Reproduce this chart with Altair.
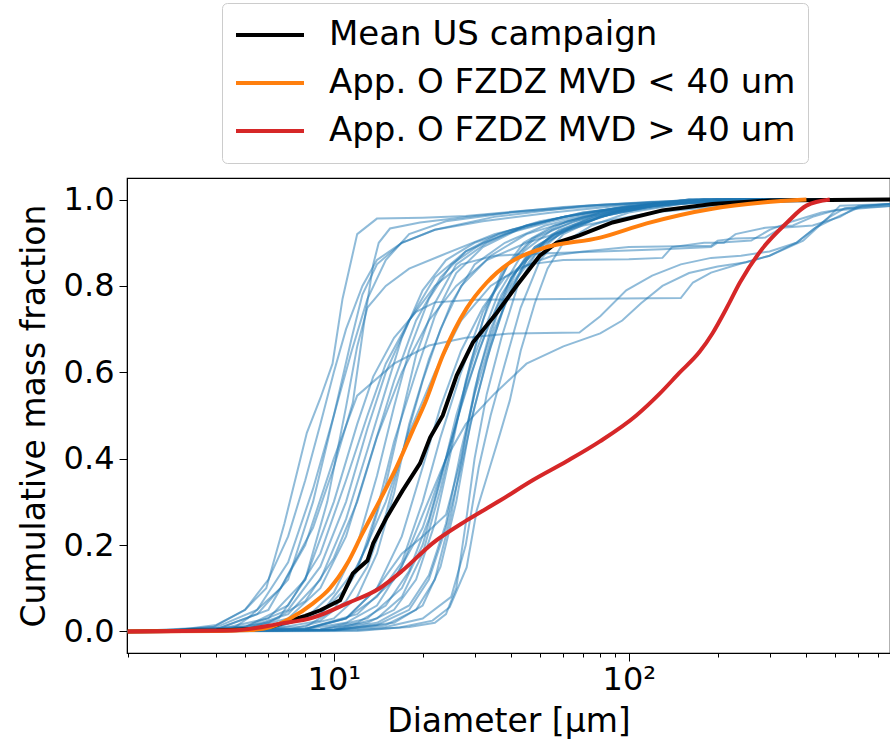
import altair as alt
import pandas as pd

SERIES = ["Mean US campaign", "App. O FZDZ MVD < 40 um", "App. O FZDZ MVD > 40 um"]
COLORS = ["#000000", "#ff7f0e", "#d62728"]
INTERP = ["linear", "monotone", "monotone"]

x_ticks = [2, 3, 4, 5, 6, 7, 8, 9, 10, 20, 30, 40, 50, 60, 70, 80, 90, 100,
           200, 300, 400, 500, 600, 700]
y_ticks = [0.0, 0.2, 0.4, 0.6, 0.8, 1.0]

# Mean US campaign (black)
mean_d = [2, 4, 5.2, 6.2, 7.1, 8, 9.0, 10.5, 11.6, 13.0, 13.6, 15.1, 17.1, 19.6, 21.2,
          23.4, 26.1, 29.6, 35.7, 41.7, 49.9, 56.9, 68, 88, 130, 192, 300, 768]
mean_f = [0, 0.002, 0.005, 0.012, 0.025, 0.036, 0.049, 0.072, 0.134, 0.164, 0.204,
          0.264, 0.326, 0.389, 0.449, 0.50, 0.593, 0.669, 0.738, 0.801, 0.870, 0.90,
          0.917, 0.947, 0.975, 0.99, 0.998, 1.0]

# App. O FZDZ MVD < 40 um (orange)
lt40_d = [2, 4, 5.2, 6.1, 7.1, 8.5, 9.7, 11.1, 12.5, 14.3, 16.3, 18.5, 20.4, 23.4,
          28.2, 33.0, 39.5, 51.0, 80, 115, 192, 284, 400]
lt40_f = [0, 0.001, 0.003, 0.01, 0.03, 0.065, 0.10, 0.157, 0.227, 0.303, 0.38, 0.465,
          0.53, 0.639, 0.748, 0.808, 0.854, 0.887, 0.912, 0.945, 0.979, 0.993, 1.0]

# App. O FZDZ MVD > 40 um (red)
gt40_d = [2, 4.5, 6.6, 8.5, 11.1, 14.3, 17.1, 21.6, 28.2, 36.6, 47.2, 61.6, 79.8, 106,
          127, 148, 174, 192, 215, 238, 284, 344, 400, 480]
gt40_f = [0, 0.002, 0.018, 0.032, 0.065, 0.10, 0.141, 0.204, 0.257, 0.303, 0.35, 0.394,
          0.44, 0.50, 0.55, 0.598, 0.648, 0.69, 0.75, 0.808, 0.887, 0.947, 0.986, 1.0]

# individual US campaign spectra (blue), (diameter, cumulative fraction)
s01 = [(2, 0), (3, 0.003), (3.9, 0.01), (5, 0.05), (5.9, 0.10), (6.8, 0.25), (8.1, 0.46),
       (9, 0.54), (9.9, 0.62), (10.7, 0.77), (12, 0.92), (14, 0.956), (20, 0.958),
       (28, 0.962), (45, 0.975), (80, 0.988), (150, 0.996), (300, 1.0), (768, 1.0)]
s02 = [(2, 0), (4.5, 0.005), (5.1, 0.03), (6.6, 0.10), (8.5, 0.24), (10, 0.38), (11.6, 0.53),
       (12.7, 0.72), (13.6, 0.85), (14.2, 0.90), (15.5, 0.933), (19.6, 0.947), (30, 0.962),
       (60, 0.983), (120, 0.995), (300, 1.0), (768, 1.0)]
s03 = [(2, 0), (4, 0.005), (5.5, 0.04), (7, 0.12), (8.5, 0.3), (10, 0.5), (11.5, 0.68),
       (12.5, 0.78), (14, 0.85), (17, 0.9), (22, 0.93), (35, 0.96), (70, 0.985),
       (150, 0.998), (768, 1.0)]
s04 = [(2, 0), (5, 0.005), (6.5, 0.03), (8, 0.12), (9.5, 0.3), (11, 0.52), (12, 0.66),
       (13, 0.75), (15, 0.8), (18, 0.84), (23, 0.87), (35, 0.92), (60, 0.96), (120, 0.99),
       (300, 1.0), (768, 1.0)]
s05 = [(2, 0), (3, 0.004), (4, 0.015), (5, 0.05), (6, 0.12), (7, 0.22), (8, 0.35), (9, 0.48),
       (10, 0.6), (11, 0.7), (12.5, 0.8), (14, 0.86), (17, 0.9), (22, 0.93), (32, 0.95),
       (55, 0.97), (100, 0.988), (200, 1.0), (768, 1.0)]
s06 = [(2, 0), (4, 0.01), (5.5, 0.05), (7, 0.16), (8.5, 0.33), (10, 0.5), (11.5, 0.65),
       (13, 0.77), (15, 0.86), (18, 0.92), (24, 0.95), (40, 0.97), (80, 0.985),
       (150, 0.998), (768, 1.0)]
s07 = [(2, 0), (4, 0.004), (6, 0.03), (8, 0.12), (10, 0.3), (12, 0.48), (13.6, 0.59),
       (16, 0.68), (19, 0.74), (22, 0.762), (30, 0.768), (60, 0.77), (150, 0.772),
       (165, 0.808), (190, 0.831), (240, 0.852), (300, 0.87), (390, 0.905), (470, 0.956),
       (520, 0.986), (768, 0.99)]
s08 = [(2, 0), (4, 0.005), (6, 0.05), (8, 0.2), (10, 0.4), (12, 0.546), (16, 0.62),
       (21, 0.662), (28, 0.68), (40, 0.69), (68, 0.692), (80, 0.73), (98, 0.79),
       (120, 0.824), (150, 0.85), (190, 0.865), (240, 0.87), (300, 0.88), (370, 0.9),
       (430, 0.935), (520, 0.963), (620, 0.985), (768, 0.99)]
s09 = [(2, 0), (5, 0.01), (7, 0.06), (9, 0.18), (11, 0.35), (13, 0.5), (15, 0.62), (18, 0.72),
       (22, 0.8), (27, 0.85), (35, 0.87), (50, 0.875), (80, 0.88), (130, 0.885), (190, 0.89),
       (200, 0.9), (260, 0.905), (300, 0.93), (360, 0.95), (450, 0.97), (550, 0.98),
       (768, 0.985)]
s10 = [(2, 0), (8, 0.005), (11, 0.03), (14, 0.1), (17, 0.22), (20, 0.38), (23, 0.52),
       (27, 0.65), (32, 0.75), (38, 0.82), (46, 0.85), (60, 0.86), (100, 0.862), (130, 0.865),
       (140, 0.89), (180, 0.9), (210, 0.9), (230, 0.92), (290, 0.935), (360, 0.94),
       (420, 0.96), (500, 0.975), (768, 0.985)]
s11 = [(2, 0), (6, 0.005), (9, 0.04), (12, 0.15), (15, 0.3), (18, 0.46), (22, 0.6), (27, 0.72),
       (34, 0.8), (42, 0.84), (55, 0.87), (70, 0.88), (100, 0.89), (190, 0.893), (200, 0.905),
       (230, 0.91), (290, 0.912), (330, 0.935), (420, 0.94), (520, 0.96), (600, 0.985),
       (768, 0.99)]
s12 = [(2, 0), (8, 0.005), (11, 0.02), (14, 0.06), (17, 0.15), (20, 0.27), (24, 0.4),
       (28, 0.48), (35, 0.55), (45, 0.62), (60, 0.66), (80, 0.69), (95, 0.72), (110, 0.76),
       (130, 0.8), (160, 0.83), (200, 0.845), (250, 0.855), (300, 0.87), (370, 0.9),
       (420, 0.93), (480, 0.96), (540, 0.98), (768, 0.99)]
s13 = [(2, 0), (5, 0.008), (7, 0.04), (9, 0.12), (11, 0.26), (13, 0.42), (15, 0.56), (17, 0.68),
       (20, 0.79), (24, 0.86), (30, 0.9), (40, 0.93), (60, 0.96), (100, 0.985), (180, 1.0),
       (768, 1.0)]
s14 = [(2, 0), (6, 0.006), (8, 0.03), (10, 0.09), (12, 0.2), (14, 0.36), (16, 0.52), (18, 0.65),
       (21, 0.77), (25, 0.85), (32, 0.9), (45, 0.94), (70, 0.97), (120, 0.99), (200, 1.0),
       (768, 1.0)]
s15 = [(2, 0), (5, 0.01), (7, 0.05), (9, 0.15), (11, 0.3), (13, 0.47), (15, 0.6), (18, 0.72),
       (22, 0.82), (28, 0.88), (38, 0.92), (55, 0.95), (90, 0.98), (160, 1.0), (768, 1.0)]
s16 = [(2, 0), (6, 0.005), (9, 0.04), (11, 0.1), (13, 0.2), (15, 0.34), (17, 0.5), (19, 0.64),
       (22, 0.76), (26, 0.85), (33, 0.9), (45, 0.94), (70, 0.97), (120, 0.99), (220, 1.0),
       (768, 1.0)]
s17 = [(2, 0), (7, 0.004), (10, 0.03), (12, 0.08), (14, 0.18), (16, 0.32), (18, 0.48),
       (21, 0.63), (25, 0.76), (30, 0.85), (38, 0.9), (52, 0.94), (80, 0.97), (140, 0.99),
       (250, 1.0), (768, 1.0)]
s18 = [(2, 0), (5, 0.006), (7, 0.03), (9, 0.1), (11, 0.22), (13, 0.38), (16, 0.58), (19, 0.72),
       (23, 0.82), (28, 0.88), (36, 0.92), (50, 0.95), (80, 0.975), (130, 0.99), (250, 1.0),
       (768, 1.0)]
s19 = [(2, 0), (8, 0.01), (10, 0.05), (12, 0.14), (14, 0.28), (16, 0.44), (19, 0.6), (22, 0.73),
       (26, 0.83), (32, 0.89), (42, 0.93), (60, 0.96), (100, 0.985), (180, 1.0), (768, 1.0)]
s20 = [(2, 0), (4, 0.004), (6, 0.02), (8, 0.07), (10, 0.17), (12, 0.3), (14, 0.45), (17, 0.6),
       (21, 0.72), (26, 0.8), (33, 0.86), (45, 0.9), (70, 0.94), (120, 0.97), (250, 0.99),
       (400, 1.0), (768, 1.0)]
s21 = [(2, 0), (6, 0.004), (9, 0.025), (11, 0.07), (13, 0.15), (15, 0.27), (17, 0.41),
       (20, 0.58), (23, 0.7), (27, 0.8), (34, 0.87), (45, 0.92), (70, 0.96), (120, 0.985),
       (220, 1.0), (768, 1.0)]
s22 = [(2, 0), (10, 0.002), (15, 0.01), (20, 0.03), (25, 0.08), (28, 0.2), (31, 0.38), (34, 0.5),
       (38, 0.62), (43, 0.75), (50, 0.86), (60, 0.92), (80, 0.96), (120, 0.985), (200, 1.0),
       (768, 1.0)]
s23 = [(2, 0), (10, 0.003), (16, 0.02), (20, 0.06), (23, 0.15), (26, 0.3), (29, 0.48),
       (33, 0.63), (38, 0.76), (45, 0.86), (55, 0.92), (75, 0.96), (110, 0.985), (180, 1.0),
       (768, 1.0)]
s24 = [(2, 0), (12, 0.001), (16.7, 0.009), (21.6, 0.025), (24.7, 0.056), (28.2, 0.148),
       (30.5, 0.28), (33.8, 0.38), (36.6, 0.458), (39.5, 0.535), (43, 0.65), (48, 0.76),
       (53, 0.84), (60, 0.9), (75, 0.94), (100, 0.97), (150, 0.99), (250, 1.0), (768, 1.0)]
s25 = [(2, 0), (10, 0.004), (14, 0.02), (18, 0.06), (21, 0.13), (24, 0.25), (27, 0.42),
       (30, 0.55), (35, 0.7), (42, 0.82), (50, 0.89), (65, 0.94), (100, 0.98), (160, 1.0),
       (768, 1.0)]
s26 = [(2, 0), (9, 0.005), (13, 0.03), (17, 0.1), (20, 0.2), (23, 0.35), (26, 0.5), (30, 0.64),
       (36, 0.78), (44, 0.88), (55, 0.93), (80, 0.97), (130, 0.99), (200, 1.0), (768, 1.0)]
s27 = [(2, 0), (10, 0.003), (15, 0.015), (19, 0.05), (22, 0.12), (25, 0.27), (28, 0.45),
       (31, 0.6), (36, 0.74), (42, 0.84), (52, 0.9), (70, 0.95), (100, 0.98), (170, 1.0),
       (768, 1.0)]
s28 = [(2, 0), (8, 0.006), (12, 0.04), (16, 0.12), (20, 0.24), (24, 0.4), (28, 0.56), (33, 0.7),
       (40, 0.82), (48, 0.89), (60, 0.93), (90, 0.97), (150, 0.995), (250, 1.0), (768, 1.0)]
s29 = [(2, 0), (12, 0.003), (18, 0.01), (22, 0.02), (24, 0.04), (26, 0.1), (28, 0.25), (30, 0.4),
       (33, 0.55), (37, 0.68), (42, 0.8), (48, 0.87), (58, 0.92), (80, 0.96), (120, 0.985),
       (220, 1.0), (768, 1.0)]
s30 = [(2, 0), (9, 0.004), (12, 0.02), (15, 0.06), (18, 0.14), (21, 0.26), (24, 0.4), (27, 0.52),
       (31, 0.65), (37, 0.78), (45, 0.87), (56, 0.92), (80, 0.96), (130, 0.99), (220, 1.0),
       (768, 1.0)]
s31 = [(2, 0), (8, 0.005), (11, 0.03), (14, 0.08), (17, 0.16), (20, 0.3), (23, 0.45), (27, 0.6),
       (32, 0.74), (39, 0.85), (48, 0.91), (65, 0.95), (100, 0.98), (180, 1.0), (768, 1.0)]
s32 = [(2, 0), (10, 0.004), (14, 0.03), (17, 0.08), (20, 0.18), (23, 0.33), (26, 0.48),
       (29, 0.62), (33, 0.75), (39, 0.85), (47, 0.91), (62, 0.95), (95, 0.98), (160, 1.0),
       (768, 1.0)]
s33 = [(2, 0), (8, 0.006), (11, 0.03), (14, 0.1), (17, 0.18), (20, 0.22), (24, 0.27), (27, 0.4),
       (30, 0.56), (34, 0.7), (40, 0.82), (48, 0.89), (60, 0.93), (90, 0.97), (150, 0.99),
       (250, 1.0), (768, 1.0)]
s34 = [(2, 0), (10, 0.003), (14, 0.015), (18, 0.05), (21, 0.12), (24, 0.24), (27, 0.38),
       (30, 0.52), (34, 0.66), (40, 0.8), (47, 0.88), (58, 0.93), (85, 0.97), (140, 0.99),
       (250, 1.0), (768, 1.0)]
s35 = [(2, 0), (9, 0.004), (13, 0.02), (16, 0.05), (19, 0.12), (22, 0.25), (25, 0.42),
       (28, 0.58), (32, 0.72), (37, 0.83), (44, 0.9), (56, 0.94), (85, 0.975), (150, 0.995),
       (300, 1.0), (768, 1.0)]

BLUE = [s01, s02, s03, s04, s05, s06, s07, s08, s09, s10, s11, s12, s13, s14, s15, s16, s17,
        s18, s19, s20, s21, s22, s23, s24, s25, s26, s27, s28, s29, s30, s31, s32, s33, s34,
        s35]

blue_rows = []
for i, pts in enumerate(BLUE):
    for d, f in pts:
        blue_rows.append({"curve": f"s{i + 1:02d}", "d": d, "f": f})
blue_df = pd.DataFrame(blue_rows)

main_rows = []
for name, ds, fs in [(SERIES[0], mean_d, mean_f), (SERIES[1], lt40_d, lt40_f),
                     (SERIES[2], gt40_d, gt40_f)]:
    for d, f in zip(ds, fs):
        main_rows.append({"series": name, "d": d, "f": f})
main_df = pd.DataFrame(main_rows)

FONT = "DejaVu Sans"

x_enc = alt.X(
    "d:Q",
    scale=alt.Scale(type="log", domain=[1.99, 768], nice=False),
    axis=alt.Axis(
        values=x_ticks,
        labelExpr="datum.value == 10 ? '10¹' : (datum.value == 100 ? '10²' : '')",
        tickSize={"condition": {"test": "datum.value == 10 || datum.value == 100", "value": 8},
                  "value": 4},
        labelFontSize=32, titleFontSize=33, labelFont=FONT, titleFont=FONT,
        labelPadding=3, titlePadding=10, grid=False, labelFlush=False,
        domainColor="black", tickColor="black", labelColor="black", titleColor="black",
        titleFontWeight="normal", labelOverlap=False,
    ),
    title="Diameter [µm]",
)
y_enc = alt.Y(
    "f:Q",
    scale=alt.Scale(domain=[-0.05, 1.05], nice=False, zero=False),
    axis=alt.Axis(
        values=y_ticks, format=".1f", tickSize=8,
        labelFontSize=32, titleFontSize=33, labelFont=FONT, titleFont=FONT,
        labelPadding=5, titlePadding=12, grid=False,
        domainColor="black", tickColor="black", labelColor="black", titleColor="black",
        titleFontWeight="normal",
    ),
    title="Cumulative mass fraction",
)

color_enc = alt.Color(
    "series:N",
    scale=alt.Scale(domain=SERIES, range=COLORS),
    legend=alt.Legend(
        title=None, orient="none", legendX=95, legendY=-175,
        symbolType="stroke", symbolStrokeWidth=4, symbolSize=4624,
        labelFontSize=34, labelFont=FONT, labelColor="black", labelLimit=1000,
        labelOffset=23, padding=12, rowPadding=8, clipHeight=40,
        strokeColor="#cccccc", fillColor="white", cornerRadius=5,
    ),
)

blue = alt.Chart(blue_df).mark_line(
    color="#1f77b4", strokeWidth=2, opacity=0.5, clip=True
).encode(x=x_enc, y=y_enc, detail="curve:N")

layers = [blue]
for name, interp in zip(SERIES, INTERP):
    layers.append(
        alt.Chart(main_df).transform_filter(alt.datum.series == name)
        .mark_line(strokeWidth=4, clip=True, interpolate=interp)
        .encode(x=x_enc, y=y_enc, color=color_enc)
    )

chart = alt.layer(*layers).properties(
    width=763, height=475,
    autosize=alt.AutoSizeParams(type="none"),
    padding={"left": 127, "top": 178, "right": 0, "bottom": 93},
    background="white",
).configure_view(stroke="black", strokeWidth=1.2)

chart.save("out.html", embed_options={"renderer": "svg", "actions": False})
